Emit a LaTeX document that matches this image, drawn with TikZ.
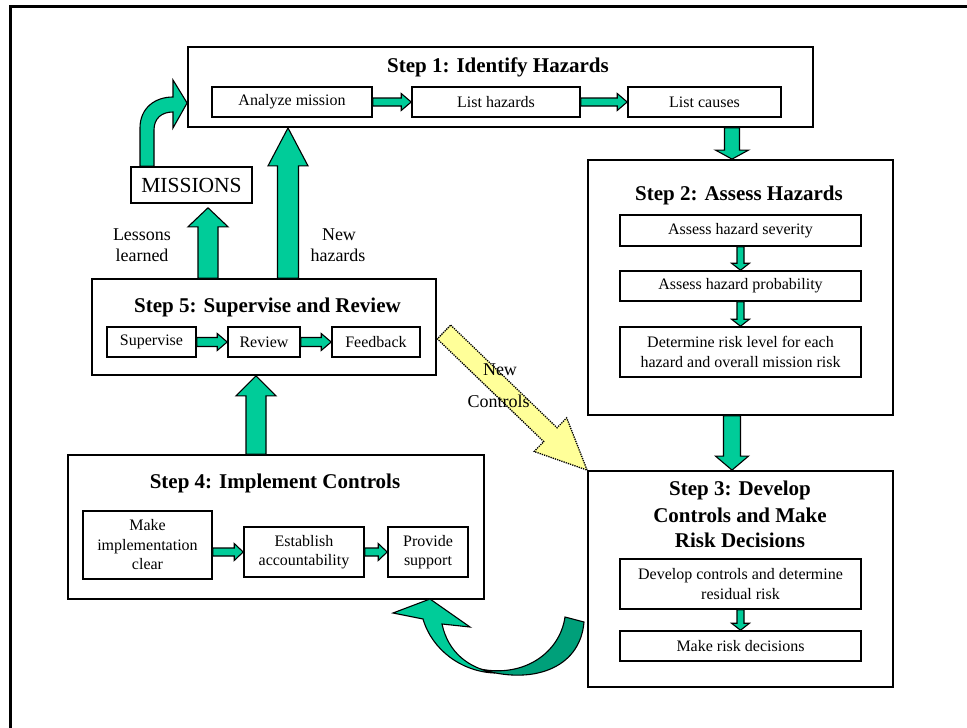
\documentclass[tikz,border=0pt]{standalone}
\usepackage{fontspec}
\setmainfont{Liberation Serif}
\usetikzlibrary{calc}
\definecolor{grn}{HTML}{00CC99}
\definecolor{dgrn}{HTML}{00A07A}
\definecolor{ylw}{HTML}{FFFF99}
\newcommand\mysubf{\fontsize{16}{19.5}\selectfont}
\newcommand\myttlf{\fontsize{21}{26}\selectfont\bfseries}
\newcommand\mylabf{\fontsize{18}{21}\selectfont}
% block arrow: #1 style, #2 from, #3 tip, #4 shaft half width, #5 head half width, #6 head length
\newcommand\barrow[6]{%
  \coordinate (bahd) at ($(#3)!#6!(#2)$);
  \draw[#1] ($(#2)!#4!90:(#3)$) -- ($(bahd)!#4!90:(#3)$) -- ($(bahd)!#5!90:(#3)$) -- (#3)
    -- ($(bahd)!#5!-90:(#3)$) -- ($(bahd)!#4!-90:(#3)$) -- ($(#2)!#4!-90:(#3)$) -- cycle;}
\begin{document}
\begin{tikzpicture}[x=1pt,y=-1pt,
  stepbox/.style={draw, line width=1.8pt, fill=white, inner sep=0pt},
  subbox/.style={draw, line width=1.6pt, fill=white, inner sep=0pt, align=center, font=\mysubf},
  ttl/.style={anchor=base, font=\myttlf, inner sep=0pt},
  lab/.style={anchor=base, font=\mylabf, inner sep=0pt},
  garr/.style={fill=grn, draw=black, line width=1.1pt, line join=miter},
  yarr/.style={fill=ylw, draw=black, densely dotted, line width=1.3pt}]
\useasboundingbox (0,0) rectangle (967,728);
\fill[white] (0,0) rectangle (967,728);
\begin{scope}
  \clip (0,0) rectangle (967,728);
  \draw[line width=3pt] (10.5,6.5) rectangle (995,760);
\end{scope}

% Step 1
\node[stepbox, minimum width=625pt, minimum height=80pt] (s1) at (500.5,87) {};
\node[ttl] (s1t) at (498,72) {Step 1: Identify Hazards};
\node[subbox, minimum width=160pt, minimum height=30pt] (a1) at (292,102) {Analyze mission};
\node[subbox, minimum width=168pt, minimum height=30pt] (a2) at (496,102) {List hazards};
\node[subbox, minimum width=153pt, minimum height=30pt] (a3) at (704.5,102) {List causes};
\barrow{garr}{a1.east}{a2.west}{4pt}{8.5pt}{10pt}
\barrow{garr}{a2.east}{a3.west}{4pt}{8.5pt}{10pt}

% Step 2
\node[stepbox, minimum width=305pt, minimum height=255pt] (s2) at (740.5,287.5) {};
\node[ttl] (s2t) at (739,200) {Step 2: Assess Hazards};
\node[subbox, minimum width=241pt, minimum height=31pt] (b1) at (740.5,230.5) {Assess hazard severity};
\node[subbox, minimum width=241pt, minimum height=30pt] (b2) at (740.5,286) {Assess hazard probability};
\node[subbox, minimum width=241pt, minimum height=50pt] (b3) at (740.5,352) {Determine risk level for each\\hazard and overall mission risk};
\barrow{garr}{b1.south}{b2.north}{3.5pt}{9pt}{7pt}
\barrow{garr}{b2.south}{b3.north}{3.5pt}{9pt}{7pt}

% Step 3
\node[stepbox, minimum width=305pt, minimum height=216pt] (s3) at (740.5,579) {};
\node[ttl] (s3t1) at (740,495) {Step 3: Develop};
\node[ttl] (s3t2) at (740,522) {Controls and Make};
\node[ttl] (s3t3) at (740,547) {Risk Decisions};
\node[subbox, minimum width=241pt, minimum height=50pt] (c1) at (740.5,584) {Develop controls and determine\\residual risk};
\node[subbox, minimum width=241pt, minimum height=30pt] (c2) at (740.5,646) {Make risk decisions};
\barrow{garr}{c1.south}{c2.north}{3.5pt}{9pt}{7pt}

% Step 4
\node[stepbox, minimum width=416pt, minimum height=144pt] (s4) at (276,527) {};
\node[ttl] (s4t) at (275,488) {Step 4: Implement Controls};
\node[subbox, minimum width=129pt, minimum height=68pt] (d1) at (147.5,545) {Make\\implementation\\clear};
\node[subbox, minimum width=120pt, minimum height=50pt] (d2) at (304,552) {Establish\\accountability};
\node[subbox, minimum width=80pt, minimum height=50pt] (d3) at (428,552) {Provide\\support};
\barrow{garr}{d1.east |- d2.west}{d2.west}{4pt}{8.5pt}{9pt}
\barrow{garr}{d2.east}{d3.west}{4pt}{8.5pt}{9pt}

% Step 5
\node[stepbox, minimum width=344pt, minimum height=96pt] (s5) at (264,327) {};
\node[ttl] (s5t) at (267.5,312) {Step 5: Supervise and Review};
\node[subbox, minimum width=89pt, minimum height=30pt] (e1) at (151.5,342) {Supervise};
\node[subbox, minimum width=72pt, minimum height=30pt] (e2) at (264,342) {Review};
\node[subbox, minimum width=88pt, minimum height=30pt] (e3) at (376,342) {Feedback};
\barrow{garr}{e1.east}{e2.west}{4.5pt}{8.5pt}{10pt}
\barrow{garr}{e2.east}{e3.west}{4.5pt}{8.5pt}{10pt}

% Missions
\node[draw, line width=1.6pt, fill=white, inner sep=0pt, minimum width=121pt, minimum height=36pt,
  font=\fontsize{21.5}{25}\selectfont] (mis) at (191.5,185) {MISSIONS};

% big arrows
\coordinate (p12a) at (s1.south -| 732,0);
\coordinate (p12b) at (s2.north -| 732,0);
\barrow{garr}{p12a}{p12b}{7.5pt}{16.5pt}{9pt}
\coordinate (p23a) at (s2.south -| 732,0);
\coordinate (p23b) at (s3.north -| 732,0);
\barrow{garr}{p23a}{p23b}{8.5pt}{16.5pt}{14pt}
\coordinate (p45a) at (s4.north -| 256,0);
\coordinate (p45b) at (s5.south -| 256,0);
\barrow{garr}{p45a}{p45b}{10pt}{20pt}{20pt}
\coordinate (p5ma) at (s5.north -| 208,0);
\coordinate (p5mb) at ($(mis.south -| 208,0)+(0,4)$);
\barrow{garr}{p5ma}{p5mb}{10pt}{20pt}{19pt}
\coordinate (p51a) at (s5.north -| 288,0);
\coordinate (p51b) at (s1.south -| 288,0);
\barrow{garr}{p51a}{p51b}{10.5pt}{20pt}{38pt}

% curved arrow missions -> step 1
\draw[garr] (mis.north -| 140,0) -- (140,128) .. controls (140,108) and (155,97) .. (173,97)
  -- (173,80) -- (s1.west |- 0,103) -- (173,128) -- (173,112)
  .. controls (162,112) and (154,118) .. (154,130) -- (mis.north -| 154,0) -- cycle;

% yellow arrow
\coordinate (nct) at (444,332);
\barrow{yarr}{nct}{s3.north west}{9.6pt}{23.4pt}{51pt}

% curved arrow step 3 -> step 4
\draw[fill=dgrn, draw=black, line width=1.1pt] (480,669) .. controls (525,678) and (560,652) .. (565,617)
  -- (584,622) .. controls (580,670) and (530,685) .. (480,669) -- cycle;
\draw[garr] (442,624) .. controls (448,652) and (468,668) .. (495,673)
  .. controls (462,672) and (432,650) .. (423,619) -- (393,613) -- (430,599) -- (470,627) -- cycle;

% labels
\node[lab] (ll1) at (142,240) {Lessons};
\node[lab] (ll2) at (142,261) {learned};
\node[lab] (nh1) at (339,240) {New};
\node[lab] (nh2) at (338,261) {hazards};
\node[lab] (nc1) at (500,375) {New};
\node[lab] (nc2) at (498.5,407) {Controls};
\end{tikzpicture}
\end{document}
